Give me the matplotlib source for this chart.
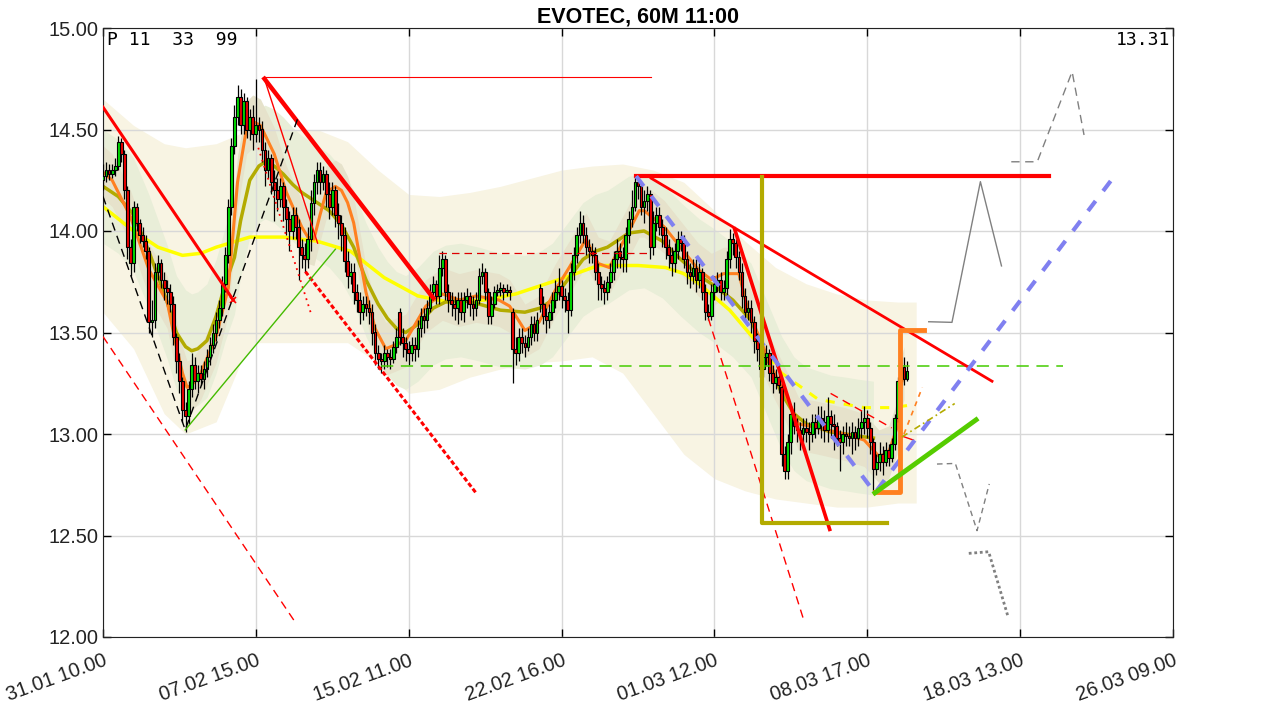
import numpy as np
import matplotlib.pyplot as plt

plt.rcParams['font.family'] = ['Liberation Sans', 'DejaVu Sans']

# -----------------------------
# 60M candles, x = bar number
# -----------------------------
opens = [14.25,14.27,14.30,14.28,14.30,14.32,14.44,14.38,14.20,13.92,
         13.84,14.12,14.04,13.98,13.95,13.90,13.55,13.56,13.80,13.84,
         13.76,13.72,13.70,13.64,13.48,13.36,13.26,13.12,13.09,13.22,
         13.34,13.26,13.30,13.27,13.32,13.38,13.44,13.50,13.56,13.62,
         13.74,13.88,14.12,14.42,14.56,14.66,14.52,14.64,14.50,14.56,
         14.48,14.52,14.50,14.40,14.30,14.36,14.24,14.20,14.16,14.22,
         14.12,14.06,14.00,14.08,14.02,13.92,13.88,13.86,13.96,14.14,
         14.24,14.30,14.24,14.28,14.18,14.12,14.20,14.08,14.04,13.98,
         13.85,13.78,13.80,13.70,13.66,13.60,13.64,13.62,13.60,13.50,
         13.40,13.37,13.36,13.40,13.38,13.37,13.43,13.60,13.48,13.45,
         13.42,13.40,13.44,13.42,13.52,13.58,13.56,13.62,13.70,13.74,
         13.68,13.82,13.86,13.70,13.66,13.64,13.62,13.66,13.60,13.66,
         13.68,13.64,13.62,13.66,13.78,13.80,13.70,13.58,13.64,13.70,
         13.71,13.72,13.70,13.71,13.60,13.42,13.40,13.48,13.45,13.43,
         13.48,13.54,13.50,13.72,13.64,13.58,13.56,13.60,13.66,13.70,
         13.73,13.68,13.66,13.61,13.80,13.88,13.98,14.04,13.98,13.92,
         13.90,13.88,13.80,13.74,13.72,13.70,13.75,13.80,13.86,13.90,
         13.87,13.86,13.98,14.06,14.12,14.24,14.22,14.12,14.15,14.18,
         13.92,14.04,14.08,14.02,13.98,13.92,13.88,13.84,13.90,13.96,
         13.94,13.86,13.80,13.78,13.82,13.76,13.80,13.70,13.60,13.58,
         13.70,13.74,13.76,13.70,13.72,13.86,13.96,13.94,13.87,13.80,
         13.68,13.60,13.62,13.55,13.46,13.42,13.32,13.38,13.40,13.30,
         13.25,13.28,13.23,12.90,12.82,12.96,13.10,13.04,13.02,13.00,
         13.03,13.01,13.00,13.06,13.03,13.08,13.06,13.02,13.09,13.05,
         13.04,12.98,12.96,13.00,12.99,12.98,13.01,12.98,13.03,13.06,
         13.08,13.03,12.96,12.83,12.86,12.90,12.86,12.92,12.88,12.95,
         13.08,13.26,13.33,13.27]
closes = [14.27,14.30,14.28,14.30,14.32,14.44,14.38,14.20,13.92,13.84,
          14.12,14.04,13.98,13.95,13.90,13.55,13.56,13.80,13.84,13.76,
          13.72,13.70,13.64,13.48,13.36,13.26,13.12,13.09,13.22,13.34,
          13.26,13.30,13.27,13.32,13.38,13.44,13.50,13.56,13.62,13.74,
          13.88,14.12,14.42,14.56,14.66,14.52,14.64,14.50,14.56,14.48,
          14.52,14.50,14.40,14.30,14.36,14.24,14.20,14.16,14.22,14.12,
          14.06,14.00,14.08,14.02,13.92,13.88,13.86,13.96,14.14,14.24,
          14.30,14.24,14.28,14.18,14.12,14.20,14.08,14.04,13.98,13.85,
          13.78,13.80,13.70,13.66,13.60,13.64,13.62,13.60,13.50,13.40,
          13.37,13.36,13.40,13.38,13.37,13.43,13.48,13.48,13.45,13.42,
          13.40,13.44,13.42,13.52,13.58,13.56,13.62,13.70,13.74,13.68,
          13.82,13.86,13.70,13.66,13.64,13.62,13.66,13.60,13.66,13.68,
          13.64,13.62,13.66,13.78,13.80,13.70,13.58,13.64,13.70,13.71,
          13.72,13.70,13.71,13.70,13.42,13.40,13.48,13.45,13.43,13.48,
          13.54,13.50,13.56,13.64,13.58,13.56,13.60,13.66,13.70,13.73,
          13.68,13.66,13.61,13.80,13.88,13.98,14.04,13.98,13.92,13.90,
          13.88,13.80,13.74,13.72,13.70,13.75,13.80,13.86,13.90,13.87,
          13.86,13.98,14.06,14.12,14.24,14.22,14.12,14.15,14.18,13.92,
          14.04,14.08,14.02,13.98,13.92,13.88,13.84,13.90,13.96,13.94,
          13.86,13.80,13.78,13.82,13.76,13.80,13.70,13.60,13.58,13.70,
          13.74,13.76,13.70,13.72,13.86,13.96,13.94,13.87,13.80,13.68,
          13.60,13.62,13.55,13.46,13.42,13.32,13.38,13.40,13.30,13.25,
          13.28,13.24,12.90,12.82,12.96,13.10,13.04,13.02,13.00,13.03,
          13.01,13.00,13.06,13.03,13.08,13.06,13.02,13.09,13.05,13.04,
          12.98,12.96,13.00,12.99,12.98,13.01,12.98,13.03,13.06,13.08,
          13.03,12.96,12.83,12.86,12.90,12.86,12.92,12.88,12.95,13.08,
          13.26,13.33,13.27,13.31]
highs = [14.33,14.34,14.33,14.33,14.36,14.47,14.46,14.40,14.22,13.96,
         14.15,14.14,14.06,14.02,13.98,13.92,13.66,13.84,13.88,13.86,
         13.80,13.76,13.74,13.68,13.50,13.40,13.28,13.16,13.26,13.40,
         13.38,13.34,13.34,13.36,13.42,13.48,13.54,13.60,13.66,13.78,
         13.92,14.16,14.46,14.62,14.72,14.70,14.68,14.66,14.60,14.62,
         14.75,14.56,14.54,14.44,14.40,14.38,14.30,14.26,14.26,14.24,
         14.16,14.10,14.12,14.12,14.06,13.96,13.94,14.02,14.20,14.28,
         14.34,14.34,14.32,14.30,14.24,14.24,14.22,14.14,14.08,14.02,
         13.90,13.84,13.84,13.74,13.70,13.68,13.68,13.66,13.64,13.54,
         13.44,13.40,13.44,13.42,13.42,13.46,13.52,13.62,13.52,13.48,
         13.46,13.48,13.48,13.56,13.62,13.62,13.66,13.74,13.78,13.76,
         13.88,13.90,13.88,13.74,13.70,13.68,13.70,13.70,13.70,13.72,
         13.70,13.68,13.70,13.82,13.84,13.82,13.72,13.68,13.73,13.74,
         13.75,13.74,13.74,13.73,13.62,13.48,13.52,13.52,13.49,13.52,
         13.58,13.58,13.60,13.74,13.68,13.62,13.64,13.70,13.76,13.82,
         13.76,13.72,13.70,13.84,13.92,14.02,14.10,14.08,14.02,13.96,
         13.94,13.92,13.84,13.78,13.76,13.78,13.84,13.90,13.96,13.94,
         13.92,14.02,14.10,14.20,14.27,14.27,14.24,14.20,14.22,14.20,
         14.10,14.12,14.12,14.06,14.02,13.96,13.92,13.94,14.00,14.00,
         13.98,13.90,13.84,13.86,13.86,13.84,13.82,13.74,13.64,13.74,
         13.78,13.80,13.80,13.76,13.90,14.01,13.99,13.96,13.90,13.84,
         13.72,13.66,13.66,13.58,13.50,13.46,13.42,13.44,13.42,13.34,
         13.32,13.30,13.26,12.94,13.00,13.14,13.16,13.08,13.06,13.08,
         13.08,13.06,13.10,13.10,13.14,13.14,13.12,13.18,13.12,13.10,
         13.06,13.02,13.04,13.06,13.04,13.06,13.04,13.08,13.12,13.14,
         13.12,13.06,12.98,12.90,12.96,12.94,12.96,12.95,12.98,13.10,
         13.28,13.36,13.38,13.36]
lows = [14.20,14.24,14.25,14.26,14.27,14.30,14.34,14.16,13.86,13.78,
        13.80,14.00,13.94,13.92,13.86,13.50,13.48,13.52,13.76,13.72,
        13.66,13.64,13.60,13.44,13.30,13.20,13.06,13.01,13.05,13.18,
        13.22,13.20,13.24,13.22,13.28,13.34,13.40,13.46,13.52,13.58,
        13.70,13.84,14.08,14.38,14.52,14.48,14.48,14.46,14.45,14.40,
        14.44,14.44,14.34,14.22,14.26,14.18,14.05,14.10,14.12,14.05,
        13.98,13.90,13.96,13.96,13.76,13.82,13.80,13.82,13.90,14.08,
        14.18,14.18,14.20,14.12,14.06,14.08,14.02,13.96,13.90,13.80,
        13.72,13.74,13.64,13.60,13.54,13.56,13.58,13.54,13.44,13.34,
        13.32,13.30,13.32,13.33,13.32,13.35,13.40,13.44,13.38,13.36,
        13.34,13.36,13.36,13.38,13.48,13.50,13.52,13.60,13.66,13.64,
        13.64,13.78,13.66,13.60,13.58,13.56,13.54,13.56,13.55,13.62,
        13.58,13.56,13.58,13.64,13.74,13.66,13.54,13.54,13.62,13.68,
        13.68,13.66,13.68,13.66,13.25,13.34,13.36,13.40,13.38,13.41,
        13.44,13.46,13.46,13.60,13.54,13.50,13.52,13.56,13.62,13.66,
        13.62,13.60,13.50,13.58,13.76,13.84,13.94,13.94,13.88,13.84,
        13.84,13.76,13.66,13.66,13.64,13.66,13.72,13.76,13.82,13.82,
        13.80,13.80,13.94,14.02,14.10,14.16,14.08,14.04,14.10,13.86,
        13.88,14.00,13.98,13.92,13.86,13.82,13.78,13.80,13.86,13.90,
        13.82,13.74,13.72,13.74,13.70,13.72,13.66,13.56,13.56,13.56,
        13.66,13.70,13.66,13.66,13.68,13.82,13.88,13.82,13.76,13.62,
        13.56,13.56,13.50,13.40,13.36,13.28,13.28,13.34,13.26,13.20,
        13.22,13.20,12.84,12.78,12.78,12.90,13.00,12.96,12.92,12.96,
        12.96,12.92,12.96,12.98,13.00,12.98,12.96,12.96,12.98,12.92,
        12.94,12.82,12.90,12.94,12.94,12.90,12.92,12.94,12.98,13.00,
        12.98,12.90,12.72,12.80,12.82,12.80,12.84,12.84,12.86,12.92,
        13.06,13.22,13.24,13.26]

x_ticks = [0, 50, 100, 150, 200, 250, 300, 350]
x_labels = ["31.01 10.00", "07.02 15.00", "15.02 11.00", "22.02 16.00",
            "01.03 12.00", "08.03 17.00", "18.03 13.00", "26.03 09.00"]
y_ticks = [12.0, 12.5, 13.0, 13.5, 14.0, 14.5, 15.0]

# -----------------------------
# smooth curves (bar, price)
# -----------------------------
yellow_x = [0, 10, 18, 26, 32, 37, 48, 59, 70, 81, 92, 103, 113, 125, 135, 145, 151, 162, 175, 184,
            190, 195, 205, 214]
yellow_y = [14.12, 14.00, 13.92, 13.88, 13.89, 13.92, 13.97, 13.97, 13.95, 13.90, 13.77, 13.68, 13.65,
            13.66, 13.69, 13.74, 13.77, 13.83, 13.83, 13.82, 13.79, 13.74, 13.61, 13.45]
yellow_fx = [214, 222, 234, 249, 258, 263]
yellow_fy = [13.45, 13.30, 13.17, 13.13, 13.13, 13.14]

olive_x = [0, 5, 10, 15, 21, 24, 27, 29, 31, 34, 37, 40, 43, 45, 48, 51, 53, 56, 59, 62, 65, 70, 74,
           78, 82, 86, 90, 93, 96, 99, 103, 108, 112, 117, 123, 130, 138, 143, 147, 152, 157, 161,
           165, 169, 172, 177, 183, 189, 195, 200, 206, 212, 217, 222, 226, 230, 234, 238, 243, 247, 252]
olive_y = [14.22, 14.17, 14.08, 13.90, 13.65, 13.50, 13.43, 13.41, 13.42, 13.46, 13.58, 13.74, 13.87,
           14.05, 14.25, 14.32, 14.34, 14.32, 14.28, 14.23, 14.19, 14.14, 14.10, 14.03, 13.92, 13.76,
           13.64, 13.57, 13.52, 13.50, 13.54, 13.62, 13.65, 13.66, 13.64, 13.61, 13.60, 13.62, 13.66,
           13.76, 13.86, 13.90, 13.92, 13.96, 13.99, 14.00, 13.95, 13.86, 13.78, 13.73, 13.66, 13.56,
           13.38, 13.20, 13.10, 13.05, 13.03, 13.01, 13.00, 12.99, 12.98]

orange_x = [0, 3, 9, 15, 21, 24, 26, 27.5, 29, 32, 37, 41, 44, 47, 49, 51.5, 56, 60, 65, 67, 69, 71,
            73, 76, 78, 80, 82, 86, 89, 92.5, 99, 105.6, 111, 116.5, 122, 129.5, 133, 138, 142.6,
            148, 152.5, 158, 162, 165.6, 171, 175.4, 177, 183.6, 194.7, 199, 203, 208, 211, 218.7,
            223, 227.5, 234, 242.6, 249, 253.8, 257, 259.7, 260.7, 262]
orange_y = [14.29, 14.25, 14.07, 13.81, 13.65, 13.43, 13.30, 13.23, 13.24, 13.30, 13.48, 13.72, 14.24,
            14.51, 14.54, 14.52, 14.38, 14.19, 14.02, 13.97, 13.96, 14.08, 14.19, 14.22, 14.20, 14.14,
            14.04, 13.70, 13.52, 13.42, 13.46, 13.63, 13.69, 13.66, 13.68, 13.66, 13.63, 13.51, 13.55,
            13.71, 13.82, 13.96, 13.84, 13.82, 13.97, 14.10, 14.10, 14.02, 13.81, 13.76, 13.79, 13.79,
            13.61, 13.33, 13.20, 13.05, 13.03, 13.00, 12.97, 12.89, 12.91, 13.03, 13.22, 13.30]

# outer envelope
band_x = [0, 10, 20, 27, 37, 45, 50, 60, 70, 80, 90, 100, 110, 120, 130, 140, 150, 160, 170, 180,
          190, 200, 210, 220, 230, 240, 250, 260, 266]
band_up = [14.65, 14.52, 14.43, 14.41, 14.43, 14.48, 14.50, 14.50, 14.50, 14.44, 14.30, 14.18, 14.17,
           14.19, 14.22, 14.26, 14.30, 14.32, 14.33, 14.30, 14.24, 14.10, 13.95, 13.82, 13.74, 13.69,
           13.66, 13.65, 13.65]
band_lo = [13.60, 13.42, 13.10, 13.00, 13.06, 13.35, 13.45, 13.45, 13.45, 13.45, 13.35, 13.20, 13.22,
           13.28, 13.32, 13.35, 13.36, 13.38, 13.30, 13.10, 12.90, 12.78, 12.72, 12.68, 12.66, 12.64,
           12.64, 12.66, 12.66]

fig = plt.figure(figsize=(12.76, 7.09), dpi=100)
ax = fig.add_axes([103 / 1276, 72 / 709, 1070 / 1276, 609 / 709])

# bands
ax.fill_between(band_x, band_lo, band_up, color='#f8f4e3', lw=0, zorder=0.1)
olive_a = np.array(olive_y)
ax.fill_between(olive_x, olive_a - 0.28, olive_a + 0.28, color='#e9eed8', lw=0, zorder=0.2)
orange_a = np.array(orange_y)
ax.fill_between(orange_x, orange_a - 0.13, orange_a + 0.13, color='#e6e2cb', lw=0, zorder=0.3)

# curves
ax.plot(yellow_x, yellow_y, color='#ffff00', lw=2.5, zorder=2)
ax.plot(yellow_fx, yellow_fy, color='#ffff00', lw=2.2, ls=(0, (3, 3)), zorder=2)
ax.plot(olive_x, olive_y, color='#b3ab00', lw=2.5, zorder=2)
ax.plot(orange_x, orange_y, color='#ff8020', lw=2.2, zorder=2)

# candles
xs = np.arange(len(closes))
o = np.array(opens); c = np.array(closes)
ax.vlines(xs, lows, highs, color='black', lw=0.9, zorder=3)
body_lo = np.minimum(o, c)
body_h = np.maximum(np.abs(c - o), 0.006)
cols = np.where(c >= o, '#00dd00', '#ee0000')
ax.bar(xs, body_h, bottom=body_lo, width=0.9, color=cols, edgecolor='black', lw=0.8, zorder=3.5)

# trend lines
ax.plot([0, 42.6], [14.61, 13.66], color='#ff0000', lw=2.2, zorder=4)
ax.plot([42.6], [13.66], marker='x', color='#ff0000', ms=4, mew=1.2, zorder=4)
ax.plot([52.8, 108], [14.75, 13.67], color='#ff0000', lw=3.2, zorder=4)
ax.plot([52.5, 179.3], [14.76, 14.76], color='#ff0000', lw=0.8, zorder=4)
ax.plot([52.8, 70.2], [14.75, 13.94], color='#ff0000', lw=1, zorder=4)
ax.plot([50.8, 67.9], [14.41, 13.60], color='#ff0000', lw=1.3, ls=(0, (1, 2.5)), zorder=4)
ax.plot([66.2, 122], [13.80, 12.71], color='#ff0000', lw=2.2, ls=(0, (1.5, 0.8)), zorder=4)
ax.plot([0, 63], [13.48, 12.07], color='#ff0000', lw=1, ls=(0, (6, 4)), zorder=4)
ax.plot([0, 26.9, 63.6], [14.17, 13.02, 14.55], color='black', lw=1, ls=(0, (6, 4)), zorder=4)
ax.plot([26.9, 76], [13.02, 13.91], color='#44bb00', lw=1, zorder=4)
ax.plot([110, 179], [13.89, 13.89], color='#dd0000', lw=0.9, ls=(0, (6, 4)), zorder=4)
ax.plot([91, 314], [13.335, 13.335], color='#44cc00', lw=1.1, ls=(0, (8, 5)), zorder=4)
ax.plot([174.4, 309.5], [14.27, 14.27], color='#ff0000', lw=3, zorder=4)
ax.plot([179.3, 290.8], [14.26, 13.26], color='#ff0000', lw=2, zorder=4)
ax.plot([206.6, 237.7], [14.01, 12.53], color='#ff0000', lw=2.6, zorder=4)
ax.plot([198, 229.5], [13.57, 12.07], color='#ff0000', lw=1, ls=(0, (6, 4)), zorder=4)
ax.plot([238, 258], [13.20, 13.03], color='#ff0000', lw=1, ls=(0, (6, 4)), zorder=4)
ax.plot([261.3, 265.1], [12.99, 12.97], color='#ff0000', lw=1, zorder=4)
ax.plot([174.4, 252.5, 330.8], [14.27, 12.71, 14.27], color='#8080f0', lw=3, ls=(0, (3, 3)), zorder=4)
ax.plot([215.4, 215.4, 256.4], [14.266, 12.563, 12.563], color='#b3ab00', lw=3, zorder=4)
ax.plot([252.5, 260.7, 260.7, 268.7], [12.714, 12.714, 13.512, 13.512], color='#ff8020', lw=3.5, zorder=4)
ax.plot([252.5, 285.6], [12.71, 13.07], color='#55cc00', lw=3.5, zorder=4)
ax.plot([262, 268], [13.00, 13.23], color='#ff8020', lw=1.2, ls=(0, (3, 3)), zorder=4)
ax.plot([261.3, 278.6], [12.985, 13.15], color='#b3ab00', lw=1.2, ls=(0, (4, 2, 1, 2)), zorder=4)

# projections
ax.plot([270.1, 277.7, 287.0, 293.9], [13.553, 13.55, 14.243, 13.828], color='grey', lw=1, zorder=4)
ax.plot([297.1, 305.6, 317.0, 320.9], [14.341, 14.341, 14.785, 14.473], color='grey', lw=1,
        ls=(0, (6, 4)), zorder=4)
ax.plot([272.8, 278.8, 285.9, 289.9], [12.852, 12.855, 12.524, 12.754], color='grey', lw=1,
        ls=(0, (4, 3)), zorder=4)
ax.plot([283.2, 289.7, 296.1], [12.412, 12.42, 12.097], color='grey', lw=2, ls=(0, (1, 1)), zorder=4)

# texts
ax.text(0.004, 0.995, "P 11  33  99", transform=ax.transAxes, ha='left', va='top',
        family='DejaVu Sans Mono', fontsize=13, zorder=5)
ax.text(0.997, 0.995, "13.31", transform=ax.transAxes, ha='right', va='top',
        family='DejaVu Sans Mono', fontsize=13, zorder=5)
ax.set_title("EVOTEC, 60M 11:00", fontsize=15.5, fontweight='bold', pad=4)

ax.set_xlim(0, 350)
ax.set_ylim(12, 15)
ax.set_xticks(x_ticks)
ax.set_xticklabels(x_labels, rotation=20, ha='right', rotation_mode='anchor', fontsize=14.4, color='#222222')
ax.set_yticks(y_ticks)
ax.set_yticklabels([f"{v:.2f}" for v in y_ticks], fontsize=14.4, color='#222222')
ax.tick_params(direction='in', top=True, right=True, length=6, width=1)
ax.tick_params(axis='x', pad=10)
ax.set_axisbelow(True)
ax.grid(True, color='#d8d8d8', lw=1)
for s in ax.spines.values():
    s.set_color('#222222')

plt.savefig('out.png', dpi=100)
